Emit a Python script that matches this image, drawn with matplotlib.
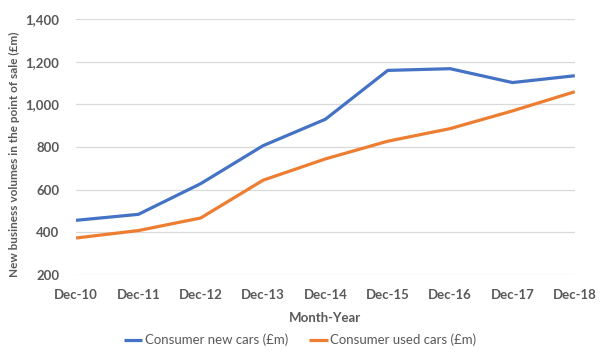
import matplotlib
matplotlib.use("Agg")
import matplotlib.pyplot as plt

categories = ["Dec-10", "Dec-11", "Dec-12", "Dec-13", "Dec-14", "Dec-15", "Dec-16", "Dec-17", "Dec-18"]
new_cars = [456, 484, 628, 806, 930, 1159, 1167, 1102, 1134]
used_cars = [373, 408, 467, 644, 744, 827, 886, 969, 1059]
y_ticks = [200, 400, 600, 800, 1000, 1200, 1400]

plt.rcParams['font.family'] = ['Lato', 'DejaVu Sans']

fig = plt.figure(figsize=(6, 3.52), dpi=100)
ax = fig.add_axes([0.1267, 0.219, 0.8313, 0.727])
x = list(range(len(categories)))
ax.plot(x, new_cars, color="#4472C4", lw=2.3, label="Consumer new cars (£m)", solid_capstyle="butt")
ax.plot(x, used_cars, color="#ED7D31", lw=2.3, label="Consumer used cars (£m)", solid_capstyle="butt")

ax.set_xlim(0, len(categories) - 1)
ax.set_ylim(200, 1400)
ax.set_yticks(y_ticks)
ax.set_yticklabels([f"{v:,}" for v in y_ticks])
ax.set_xticks(x)
ax.set_xticklabels(categories)
ax.grid(axis="y", color="#D9D9D9", lw=0.9)
ax.set_axisbelow(True)
for s in ax.spines.values():
    s.set_visible(False)
ax.tick_params(length=0, labelsize=9.5, colors="#595959")
ax.tick_params(axis="x", pad=10)
ax.tick_params(axis="y", pad=12)
for lab in ax.get_xticklabels() + ax.get_yticklabels():
    lab.set_fontweight("bold")
ax.set_xlabel("Month-Year", fontsize=9.5, fontweight="bold", color="#595959")
ax.xaxis.set_label_coords(0.5, -0.145)
ax.set_ylabel("New business volumes in the point of sale (£m)", fontsize=8.5, fontweight="bold", color="#595959")
ax.yaxis.set_label_coords(-0.113, 0.47)

leg = fig.legend(loc="center", bbox_to_anchor=(0.5, 0.034), ncol=2, frameon=False,
                 fontsize=9.5, handlelength=1.4, handletextpad=0.2, columnspacing=1.6)
for t in leg.get_texts():
    t.set_color("#595959")

fig.savefig("out.png", dpi=100)
